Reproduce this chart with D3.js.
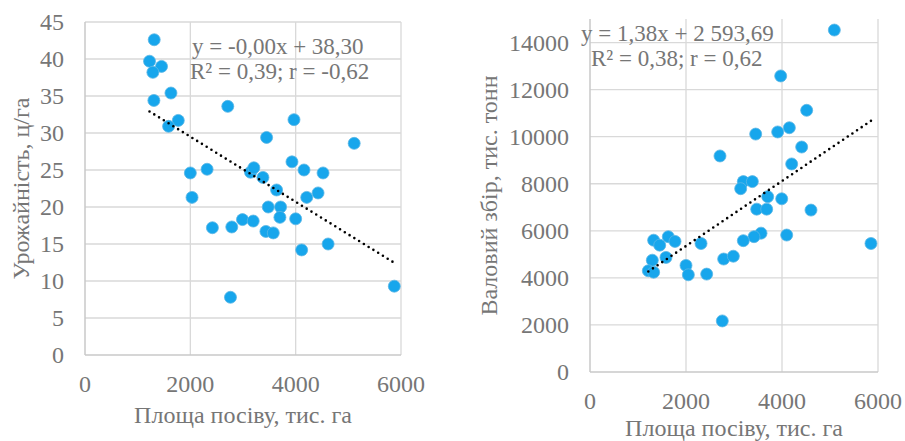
<!DOCTYPE html>
<html>
<head>
<meta charset="utf-8">
<script src="https://cdn.jsdelivr.net/npm/d3@7"></script>
<style>
  body { margin: 0; background: #fff; }
  text { font-family: "Liberation Serif", "Times New Roman", serif; fill: #767676; }
</style>
</head>
<body>
<div id="d3-container"></div>
<script>
/* DATA */
// left chart: area (тис. га) vs yield (ц/га)
const yieldArea = [1314, 1225, 1453, 1289, 1632, 1308, 1771, 1587, 2711, 3968, 3448, 5111,
  2000, 2318, 3143, 3206, 3378, 3930, 4158, 4520, 3638, 4425, 4210, 2032, 3479, 3714,
  3701, 4000, 2990, 3194, 2419, 2787, 3435, 3575, 4616, 4114, 2762, 5873];
const yieldValue = [42.6, 39.7, 39.0, 38.2, 35.4, 34.4, 31.7, 30.9, 33.6, 31.8, 29.4, 28.6,
  24.6, 25.1, 24.7, 25.3, 24.0, 26.1, 25.0, 24.6, 22.3, 21.9, 21.3, 21.3, 20.0, 20.0,
  18.6, 18.4, 18.3, 18.1, 17.2, 17.3, 16.7, 16.5, 15.0, 14.2, 7.8, 9.3];

// right chart: area (тис. га) vs gross harvest (тис. тонн)
const grossArea = [5090, 3973, 4514, 4153, 3910, 3452, 4410, 2708, 4202, 3194, 3382, 3139,
  3702, 3994, 3473, 3681, 4604, 1326, 1452, 1631, 1771, 2313, 3563, 3417, 4098, 3194,
  5854, 1298, 1583, 1215, 1326, 2000, 2049, 2431, 2785, 2986, 2756];
const grossValue = [14530, 12580, 11120, 10380, 10200, 10110, 9560, 9180, 8840, 8090, 8090, 7790,
  7450, 7360, 6920, 6920, 6880, 5600, 5390, 5750, 5550, 5460, 5900, 5750, 5820, 5580,
  5460, 4750, 4870, 4300, 4240, 4530, 4130, 4160, 4800, 4920, 2170];

// trend lines (coefficients as shown on the chart, slope of left one estimated)
const yieldTrend = { slope: -0.0044, intercept: 38.30 };
const grossTrend = { slope: 1.38, intercept: 2593.69 };

// ticks and labels
const xTicks = [0, 2000, 4000, 6000];
const yieldTicks = [0, 5, 10, 15, 20, 25, 30, 35, 40, 45];
const grossTicks = [0, 2000, 4000, 6000, 8000, 10000, 12000, 14000];
const xTitle = "Площа посіву, тис. га";
const yieldTitle = "Урожайність, ц/га";
const grossTitle = "Валовий збір, тис. тонн";
const yieldLabel = ["y = -0,00x + 38,30", "R² = 0,39; r = -0,62"];
const grossLabel = ["y = 1,38x + 2 593,69", "R² = 0,38; r = 0,62"];

/* CONSTANTS */
const width = 905, height = 441;
const gridColor = "#d9d9d9";
const dotColor = "#17a6ec";

const svg = d3.select("#d3-container")
  .append("svg")
  .attr("width", width)
  .attr("height", height);

function drawChart(c) {
  const xScale = d3.scaleLinear().domain([0, 6000]).range([c.left, c.right]);
  const yScale = d3.scaleLinear().domain([0, c.yMax]).range([c.bottom, c.top]);
  const g = svg.append("g");

  // gridlines
  g.selectAll(".hgrid")
    .data(c.yTicks.filter(d => d > 0))
    .join("line")
    .attr("x1", c.left).attr("x2", c.right)
    .attr("y1", d => yScale(d)).attr("y2", d => yScale(d))
    .attr("stroke", gridColor).attr("stroke-width", 1.3);

  g.selectAll(".vgrid")
    .data(xTicks.filter(d => d > 0))
    .join("line")
    .attr("x1", d => xScale(d)).attr("x2", d => xScale(d))
    .attr("y1", c.top).attr("y2", c.bottom)
    .attr("stroke", gridColor).attr("stroke-width", 1.3);

  // axis lines
  g.append("line")
    .attr("x1", c.left).attr("x2", c.right)
    .attr("y1", c.bottom).attr("y2", c.bottom)
    .attr("stroke", "#c8c8c8").attr("stroke-width", 1.5);
  g.append("line")
    .attr("x1", c.left).attr("x2", c.left)
    .attr("y1", c.top).attr("y2", c.bottom)
    .attr("stroke", "#c8c8c8").attr("stroke-width", 1.5);

  // tick labels
  g.selectAll(".ylab")
    .data(c.yTicks)
    .join("text")
    .attr("x", c.left - 21)
    .attr("y", d => yScale(d) + 8)
    .attr("text-anchor", "end")
    .attr("font-size", 24)
    .text(d => d);

  g.selectAll(".xlab")
    .data(xTicks)
    .join("text")
    .attr("x", d => xScale(d))
    .attr("y", c.bottom + 37)
    .attr("text-anchor", "middle")
    .attr("font-size", 24)
    .text(d => d);

  // axis titles
  g.append("text")
    .attr("x", (c.left + c.right) / 2)
    .attr("y", c.xTitleY)
    .attr("text-anchor", "middle")
    .attr("font-size", 24)
    .text(xTitle);

  g.append("text")
    .attr("transform", `translate(${c.yTitleX}, ${(c.top + c.bottom) / 2}) rotate(-90)`)
    .attr("text-anchor", "middle")
    .attr("font-size", 24)
    .text(c.yTitle);

  // points
  const pts = c.xs.map((x, i) => ({ x: x, y: c.ys[i] }));
  g.selectAll("circle")
    .data(pts)
    .join("circle")
    .attr("cx", d => xScale(d.x))
    .attr("cy", d => yScale(d.y))
    .attr("r", 6)
    .attr("fill", dotColor)
    .attr("stroke", "#5cb6e4")
    .attr("stroke-width", 0.8);

  // dotted trend line over the data range
  const ext = d3.extent(c.xs);
  const line = d3.line()
    .x(d => xScale(d))
    .y(d => yScale(c.trend.intercept + c.trend.slope * d));
  g.append("path")
    .attr("d", line(ext))
    .attr("fill", "none")
    .attr("stroke", "#000")
    .attr("stroke-width", 2.6)
    .attr("stroke-linecap", "round")
    .attr("stroke-dasharray", "0 5.6");

  // equation label
  g.selectAll(".eq")
    .data(c.label)
    .join("text")
    .attr("x", (d, i) => c.labelX[i])
    .attr("y", (d, i) => c.labelY[i])
    .attr("font-size", 23)
    .text(d => d);
}

drawChart({
  left: 85, right: 401, top: 22, bottom: 355,
  yMax: 45, yTicks: yieldTicks,
  xs: yieldArea, ys: yieldValue, trend: yieldTrend,
  yTitle: yieldTitle, yTitleX: 29, xTitleY: 423,
  label: yieldLabel, labelX: [192, 190], labelY: [54, 79]
});

drawChart({
  left: 590, right: 878, top: 19, bottom: 372,
  yMax: 15000, yTicks: grossTicks,
  xs: grossArea, ys: grossValue, trend: grossTrend,
  yTitle: grossTitle, yTitleX: 497, xTitleY: 436,
  label: grossLabel, labelX: [581, 591], labelY: [41, 66]
});
</script>
</body>
</html>
